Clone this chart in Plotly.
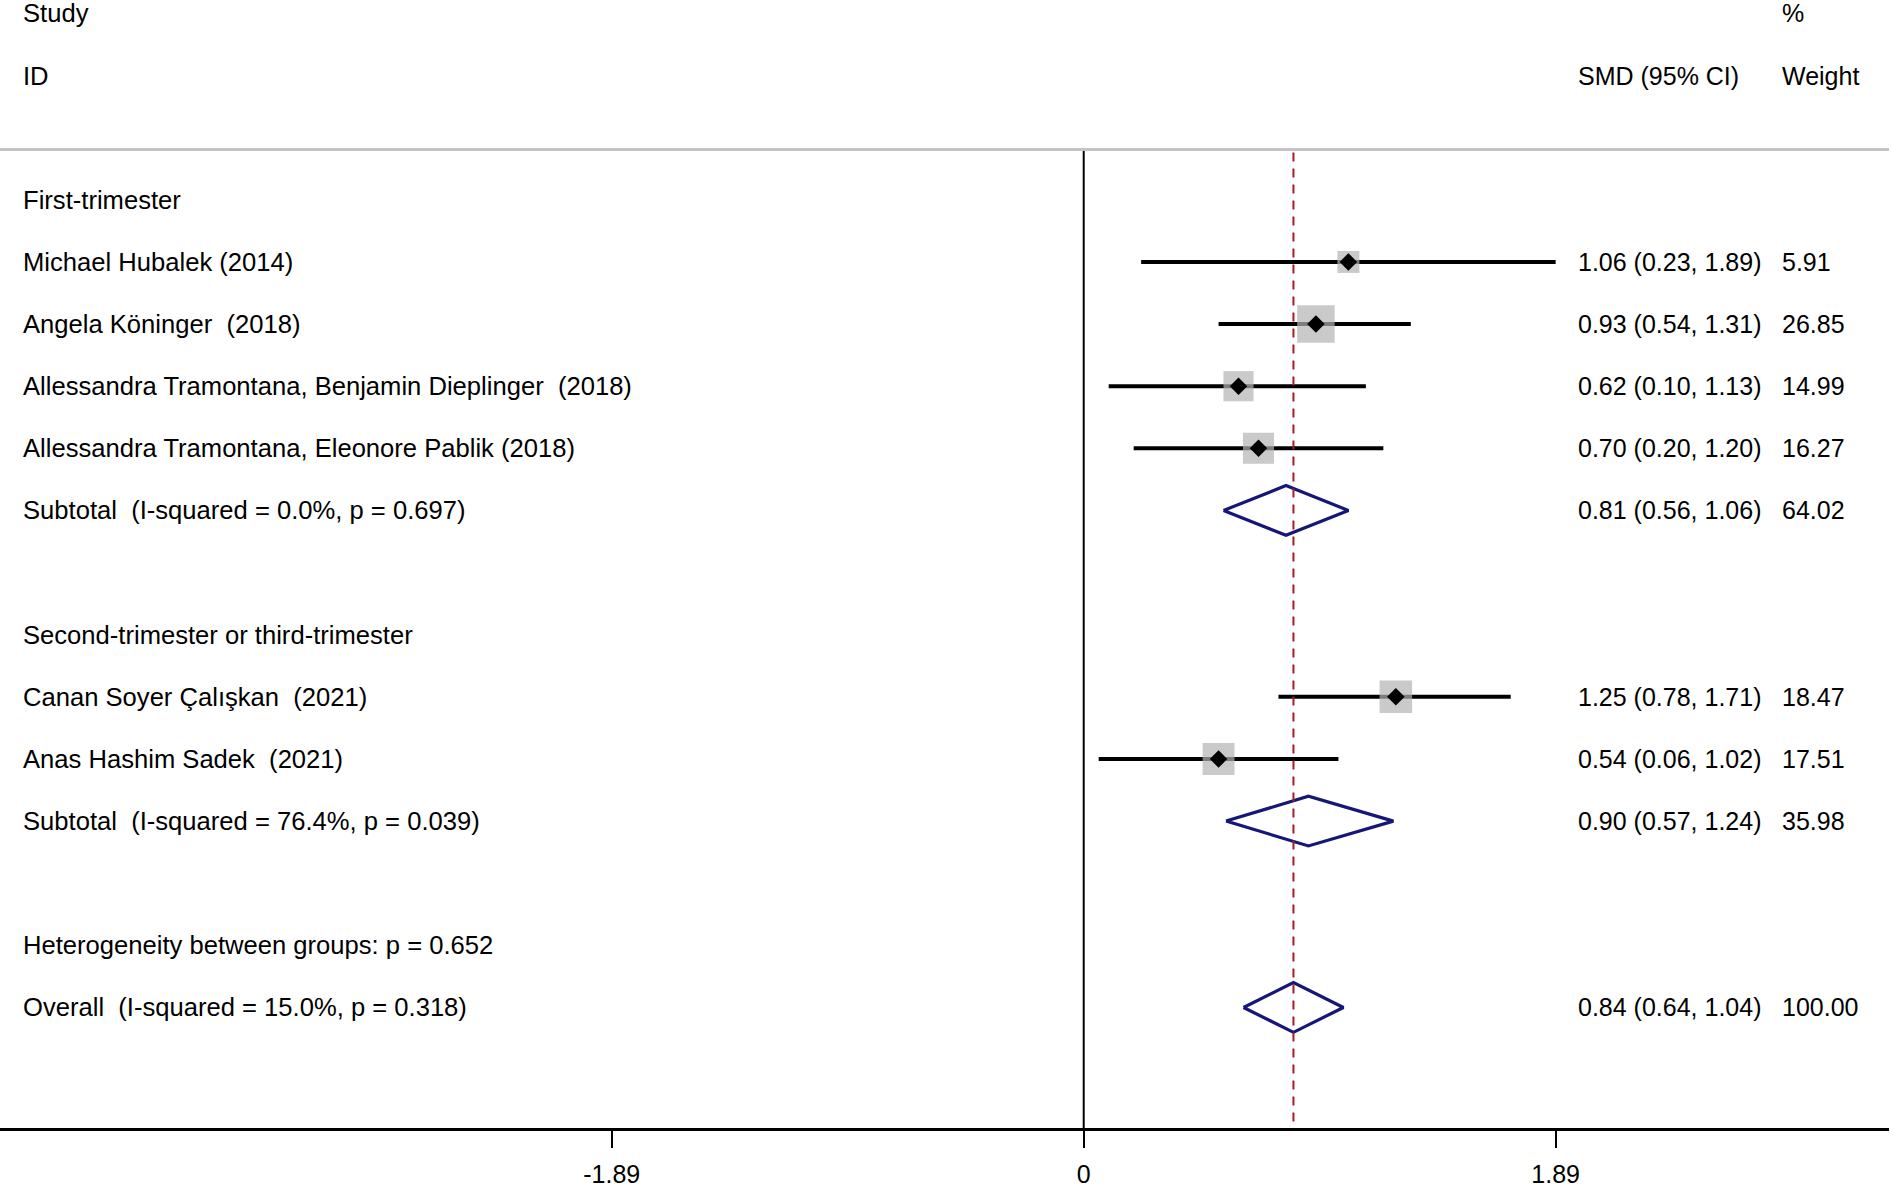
import numpy as np
import plotly.graph_objects as go

# study rows
study_labels = ["Michael Hubalek (2014)", "Angela Köninger  (2018)",
                "Allessandra Tramontana, Benjamin Dieplinger  (2018)",
                "Allessandra Tramontana, Eleonore Pablik (2018)",
                "Canan Soyer Çalışkan  (2021)", "Anas Hashim Sadek  (2021)"]
study_rows = [4, 5, 6, 7, 11, 12]
study_est = [1.06, 0.93, 0.62, 0.70, 1.25, 0.54]
study_lo = [0.23, 0.54, 0.10, 0.20, 0.78, 0.06]
study_hi = [1.89, 1.31, 1.13, 1.20, 1.71, 1.02]
study_wt = [5.91, 26.85, 14.99, 16.27, 18.47, 17.51]

# pooled rows (subtotals + overall)
pool_labels = ["Subtotal  (I-squared = 0.0%, p = 0.697)",
               "Subtotal  (I-squared = 76.4%, p = 0.039)",
               "Overall  (I-squared = 15.0%, p = 0.318)"]
pool_rows = [8, 13, 16]
pool_est = [0.81, 0.90, 0.84]
pool_lo = [0.56, 0.57, 0.64]
pool_hi = [1.06, 1.24, 1.04]
pool_wt = ["64.02", "35.98", "100.00"]

# plain text rows
head_labels = ["Study", "ID", "First-trimester", "Second-trimester or third-trimester",
               "Heterogeneity between groups: p = 0.652"]
head_rows = [0, 1, 3, 10, 15]

tick_vals = [-1.89, 0, 1.89]
tick_text = ["-1.89", "0", "1.89"]

FONT = "Liberation Sans, Arial, sans-serif"
FS = 25
FS_LEFT = 25.6
X_LEFT, X_RIGHT = -4.34, 3.225
X_LABEL = -4.255
X_CI = 1.97
X_WT = 2.79
Y_TOP, Y_BOT = -0.216, 17.94
Y_RULE = 2.19

fig = go.Figure()

# CI lines
for r, lo, hi in zip(study_rows, study_lo, study_hi):
    fig.add_trace(go.Scatter(x=[lo, hi], y=[r, r], mode="lines",
                             line=dict(color="black", width=4), hoverinfo="skip"))

# weight boxes (side grows with sqrt of weight)
box_size = [8.3 + 5.635 * np.sqrt(w) for w in study_wt]
fig.add_trace(go.Scatter(x=study_est, y=study_rows, mode="markers",
                         marker=dict(symbol="square", size=box_size, color="#b4b4b4",
                                     line=dict(width=0))))
fig.add_trace(go.Scatter(x=study_est, y=study_rows, mode="markers",
                         marker=dict(symbol="diamond", size=13.5, color="black",
                                     line=dict(width=0))))

# pooled diamonds
for r, e, lo, hi in zip(pool_rows, pool_est, pool_lo, pool_hi):
    fig.add_trace(go.Scatter(x=[lo, e, hi, e, lo], y=[r, r - 0.4, r, r + 0.4, r],
                             mode="lines", line=dict(color="#161678", width=3.2)))

# reference lines
fig.add_trace(go.Scatter(x=[0, 0], y=[Y_RULE, Y_BOT], mode="lines",
                         line=dict(color="black", width=2)))
fig.add_trace(go.Scatter(x=[pool_est[2], pool_est[2]], y=[Y_RULE + 0.05, Y_BOT], mode="lines",
                         line=dict(color="#a31f24", width=2, dash="9px,7px")))
fig.add_shape(type="line", xref="paper", yref="y", x0=0, x1=1, y0=Y_RULE, y1=Y_RULE,
              line=dict(color="#c4c4c4", width=3))

# text
def txt(x, y, s, size=FS):
    fig.add_annotation(x=x, y=y, text=s, showarrow=False, xanchor="left", yanchor="middle",
                       font=dict(family=FONT, size=size, color="black"))

for r, s in zip(head_rows, head_labels):
    txt(X_LABEL, r, s, FS_LEFT)
for r, s in zip(study_rows, study_labels):
    txt(X_LABEL, r, s, FS_LEFT)
for r, s in zip(pool_rows, pool_labels):
    txt(X_LABEL, r, s, FS_LEFT)

txt(X_WT, 0, "%")
txt(X_CI, 1, "SMD (95% CI)")
txt(X_WT, 1, "Weight")
for r, e, lo, hi, w in zip(study_rows, study_est, study_lo, study_hi, study_wt):
    txt(X_CI, r, f"{e:.2f} ({lo:.2f}, {hi:.2f})")
    txt(X_WT, r, f"{w:.2f}")
for r, e, lo, hi, w in zip(pool_rows, pool_est, pool_lo, pool_hi, pool_wt):
    txt(X_CI, r, f"{e:.2f} ({lo:.2f}, {hi:.2f})")
    txt(X_WT, r, w)

fig.update_layout(
    width=1893, height=1188, showlegend=False,
    margin=dict(l=0, r=4, t=0, b=52),
    plot_bgcolor="white", paper_bgcolor="white",
    font=dict(family=FONT, size=FS, color="black"),
    xaxis=dict(range=[X_LEFT, X_RIGHT], tickvals=tick_vals, ticktext=tick_text,
               showgrid=False, zeroline=False, showline=True, linecolor="black", linewidth=3,
               ticks="outside", ticklen=17, tickwidth=2, tickcolor="black",
               ticklabelstandoff=5, tickfont=dict(size=FS, color="black")),
    yaxis=dict(range=[Y_BOT, Y_TOP], visible=False, showgrid=False, zeroline=False),
)

# page margin off so the figure sits at the window corner
fig.write_html("out.html", config={"displayModeBar": False},
               post_script="document.body.style.margin='0';document.body.style.overflow='hidden';")
